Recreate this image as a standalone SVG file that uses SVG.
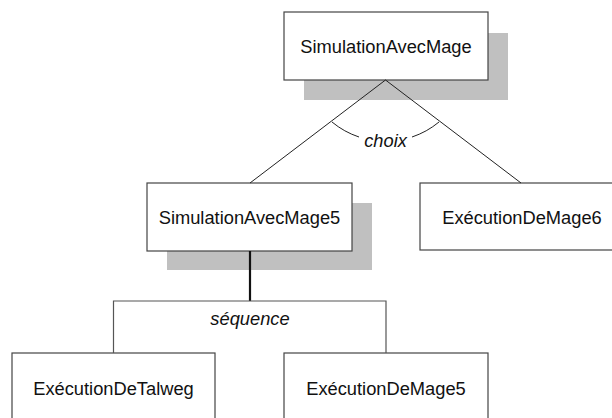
<svg xmlns="http://www.w3.org/2000/svg" width="612" height="418" viewBox="0 0 612 418">
<style>
.box{fill:#fff;stroke:#444;stroke-width:1.2}
.shadow{fill:#c0c0c0;stroke:none}
.lbl{font-family:"Liberation Sans",Arial,sans-serif;font-size:18.3px;fill:#111;text-anchor:middle}
.it{font-style:italic}
.ln{fill:none;stroke:#222;stroke-width:1}
.br{fill:none;stroke:#555;stroke-width:1.2}
</style>
<rect width="612" height="418" fill="#fff"/>
<g id="SimulationAvecMage">
<rect class="shadow" x="304" y="33" width="204" height="67"/>
<rect class="box" x="284" y="12" width="204" height="68"/>
<text class="lbl" x="386" y="52.5">SimulationAvecMage</text>
</g>
<g id="SimulationAvecMage5">
<rect class="shadow" x="167" y="203" width="205" height="67"/>
<rect class="box" x="147" y="183" width="205" height="68"/>
<text class="lbl" x="249.5" y="223.5">SimulationAvecMage5</text>
</g>
<g id="ExecutionDeMage6">
<rect class="box" x="420" y="183" width="204" height="67"/>
<text class="lbl" x="522" y="223.5">ExécutionDeMage6</text>
</g>
<g id="ExecutionDeTalweg">
<rect class="box" x="12" y="353" width="203" height="70"/>
<text class="lbl" x="113.5" y="394.5">ExécutionDeTalweg</text>
</g>
<g id="ExecutionDeMage5">
<rect class="box" x="284" y="353" width="204" height="70"/>
<text class="lbl" x="386" y="394.5">ExécutionDeMage5</text>
</g>
<g id="connectors">
<path class="ln" d="M385.5,80 L250,183 M385.5,80 L521,183"/>
<path class="ln" d="M332,122 A83.8,83.8 0 0 0 359,137 M412,137 A83.8,83.8 0 0 0 439,122"/>
<text class="lbl it" x="385.5" y="147">choix</text>
<path d="M250,251 L250,301" stroke="#111" stroke-width="2.2" fill="none"/>
<path class="br" d="M113.5,353 L113.5,301 L386,301 L386,353"/>
<text class="lbl it" x="250" y="325">séquence</text>
</g>
</svg>
